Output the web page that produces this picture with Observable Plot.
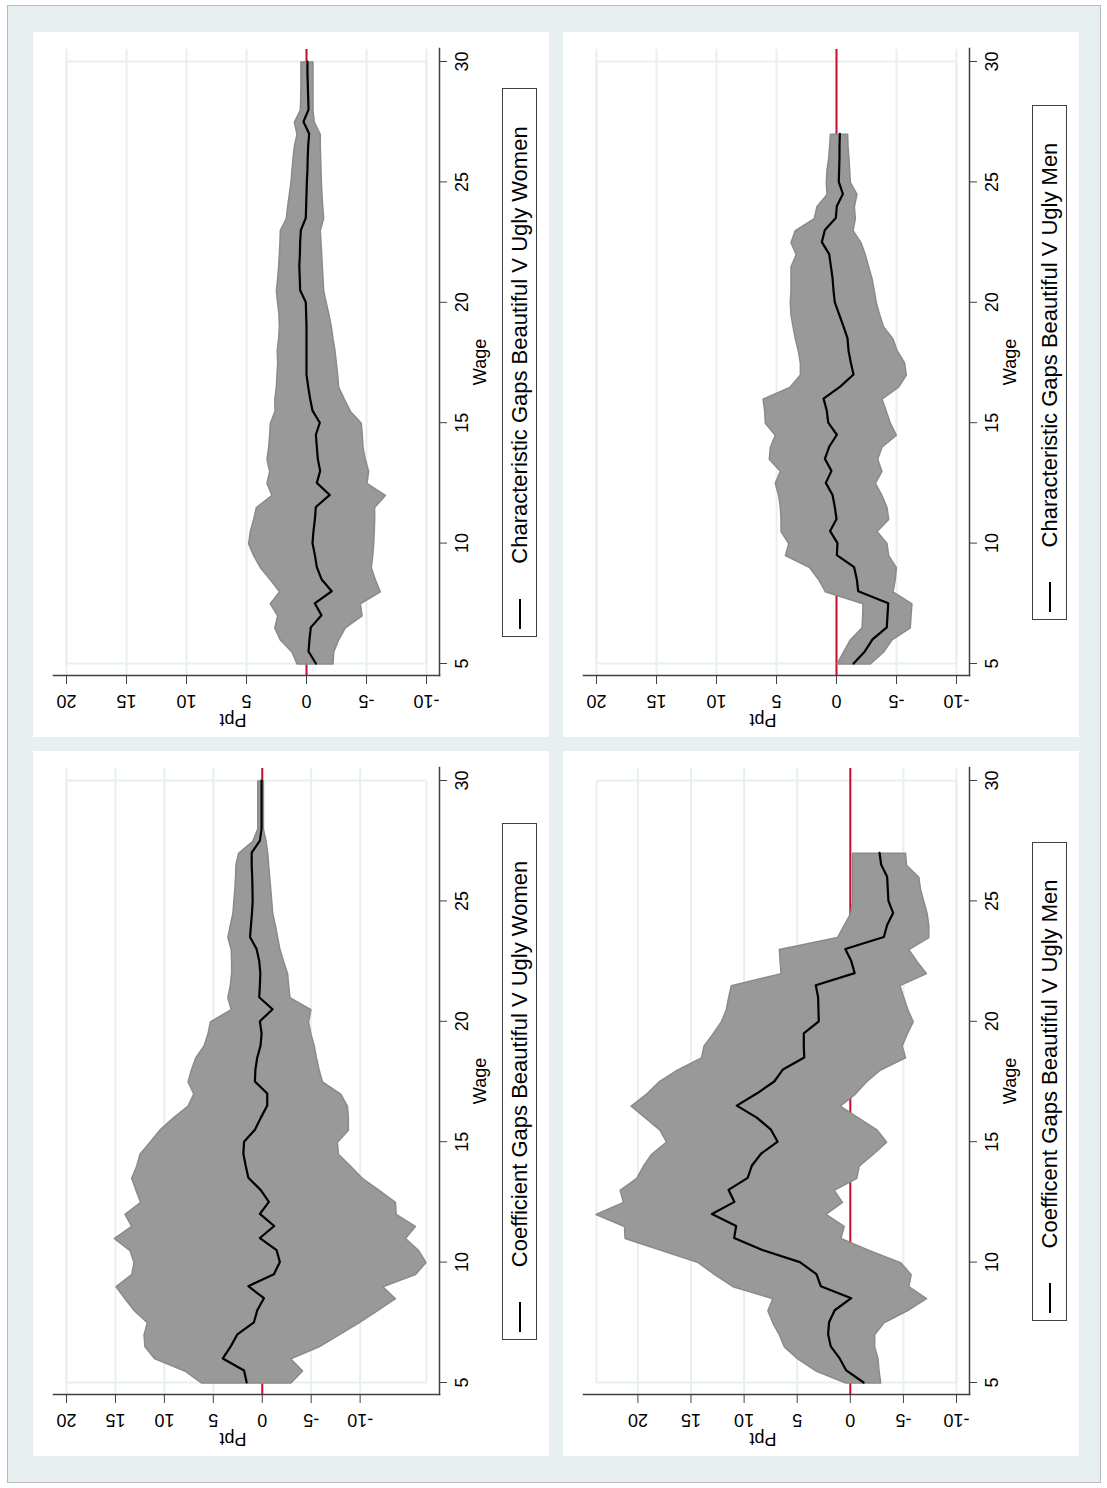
<!DOCTYPE html>
<html>
<head>
<meta charset="utf-8">
<script src="https://cdn.jsdelivr.net/npm/d3@7"></script>
<script src="https://cdn.jsdelivr.net/npm/@observablehq/plot@0.6"></script>
<style>
html, body { margin:0; padding:0; background:#fff; width:1107px; height:1488px; overflow:hidden; }
#fig { position:absolute; left:0; top:0; width:1488px; height:1107px; transform-origin:0 0; transform:translate(0px,1488px) rotate(-90deg); font-family:"Liberation Sans", Arial, sans-serif; }
#outer { position:absolute; left:5px; top:7px; width:1478px; height:1094px; background:#e8eff1; border:1px solid #b8b8b8; box-sizing:border-box; }
.panel { position:absolute; width:705px; height:516px; background:#fff; }
.panel svg { position:absolute; left:0; top:0; }
.legwrap { position:absolute; left:61px; width:627px; top:469px; display:flex; justify-content:center; }
.leg { display:flex; align-items:center; height:35px; box-sizing:border-box; border:1px solid #404040; background:#fff; padding:0 37px 0 7px; }
.key { width:30px; height:0; border-top:2px solid #000; }
.lt { margin-left:35px; font-size:22px; color:#000; white-space:nowrap; line-height:1; }
</style>
</head>
<body>
<div id="fig"><div id="outer"></div></div>
<script>
const pptTicks = [-10, -5, 0, 5, 10, 15, 20];
const wageTicks = [5, 10, 15, 20, 25, 30];

const wageWomen = [5,5.5,6,6.5,7,7.5,8,8.5,9,9.5,10,10.5,11,11.5,12,12.5,13,13.5,14,14.5,15,15.5,16,16.5,17,17.5,18,18.5,19,19.5,20,20.5,21,21.5,22,22.5,23,23.5,24,24.5,25,25.5,26,26.5,27,27.5,28,28.5,29,29.5,30];
const wageMen = [5,5.5,6,6.5,7,7.5,8,8.5,9,9.5,10,10.5,11,11.5,12,12.5,13,13.5,14,14.5,15,15.5,16,16.5,17,17.5,18,18.5,19,19.5,20,20.5,21,21.5,22,22.5,23,23.5,24,24.5,25,25.5,26,26.5,27];

// Characteristic gaps, women
const charWomenMid = [-0.78,-0.17,-0.25,-0.36,-1.25,-0.69,-2.1,-1.25,-0.86,-0.7,
  -0.5,-0.58,-0.7,-0.78,-1.94,-0.86,-1.14,-0.94,-0.86,-0.78,
  -1.11,-0.5,-0.3,-0.14,0,0,0,0,0,0.03,
  0.06,0.53,0.56,0.6,0.55,0.53,0.47,0.06,0.03,0,
  -0.03,-0.08,-0.1,-0.14,-0.22,0.25,-0.17,-0.14,-0.11,-0.08,-0.08];
const charWomenHi = [0.75,1.17,2.14,2.6,2.36,2.97,2.2,2.97,3.8,4.36,
  4.78,4.64,4.36,4.14,2.83,3.25,3.03,3.25,3.11,3.03,
  2.97,2.58,2.6,2.47,2.42,2.36,2.4,2.28,2.22,2.25,
  2.36,2.47,2.36,2.28,2.22,2.17,2.14,1.64,1.53,1.39,
  1.25,1.17,1.08,0.97,0.75,0.97,0.47,0.44,0.42,0.42,0.42];
const charWomenLo = [-2.25,-2.31,-2.72,-3.28,-4.67,-4.53,-6.19,-5.78,-5.44,-5.56,
  -5.64,-5.69,-5.72,-5.72,-6.61,-5.08,-5.22,-4.94,-4.75,-4.69,
  -4.61,-3.69,-3.19,-2.72,-2.64,-2.53,-2.42,-2.25,-2.11,-1.92,
  -1.69,-1.47,-1.42,-1.36,-1.31,-1.25,-1.19,-1.47,-1.39,-1.33,
  -1.28,-1.25,-1.22,-1.19,-1.19,-0.69,-0.58,-0.58,-0.58,-0.58,-0.58];

// Characteristic gaps, men
const charMenMid = [-1.42,-2.36,-3.0,-4.19,-4.25,-4.31,-1.81,-1.69,-1.47,-0.03,
  -0.08,0.53,0,0.14,0.33,0.89,0.42,0.97,0.61,-0.03,
  0.69,0.81,1.08,-0.31,-1.42,-1.19,-1.0,-0.92,-0.58,-0.22,
  0.14,0.25,0.33,0.47,0.61,1.22,0.97,0.06,-0.03,-0.53,
  -0.19,-0.22,-0.25,-0.25,-0.28];
const charMenHi = [-0.08,-0.64,-1.19,-2.17,-2.22,-2.25,0.89,1.44,2.19,4.22,
  3.94,4.58,4.58,4.64,4.78,5.06,4.64,5.56,5.47,5.06,
  5.89,5.94,6.08,3.81,2.97,2.97,3.14,3.39,3.58,3.75,
  3.81,3.75,3.75,3.75,3.31,3.75,3.39,1.81,1.58,0.75,
  0.81,0.75,0.61,0.53,0.47];
const charMenLo = [-2.86,-3.97,-4.67,-6.19,-6.25,-6.33,-4.75,-4.94,-5.03,-4.39,
  -4.25,-3.42,-4.39,-4.25,-3.83,-3.28,-3.83,-3.47,-3.83,-5.03,
  -4.53,-4.19,-3.83,-5.22,-5.86,-5.72,-5.1,-4.75,-3.97,-3.64,
  -3.36,-3.19,-3.0,-2.72,-2.44,-2.08,-1.42,-1.61,-1.53,-1.75,
  -1.19,-1.14,-1.08,-1.0,-0.97];

// Coefficient gaps, women
const coefWomenMid = [1.59,1.86,4.03,3.22,2.54,0.85,0.51,-0.17,1.42,-1.19,
  -1.8,-1.46,0.24,-1.22,0.24,-0.68,0.17,1.42,1.69,1.93,
  1.86,0.75,0.14,-0.51,-0.51,0.75,0.7,0.51,0.17,0.07,
  0.24,-1.05,0.31,0.24,0.2,0.31,0.58,1.25,1.15,1.05,
  0.98,1.0,1.03,1.08,1.08,0.24,0.07,0.07,0.07,0.07,0.07];
const coefWomenHi = [6.17,7.86,10.92,11.93,12.03,11.69,13.02,13.97,14.88,13.29,
  13.05,13.46,15.08,13.29,13.97,12.37,12.85,13.29,12.78,12.44,
  11.42,10.41,9.05,7.53,6.95,7.53,7.19,6.75,5.9,5.49,
  5.25,3.12,3.46,3.22,3.08,3.08,3.12,3.46,3.22,2.95,
  2.85,2.75,2.68,2.64,2.37,0.92,0.41,0.41,0.41,0.41,0.41];
const coefWomenLo = [-2.98,-4.17,-2.98,-5.86,-7.9,-9.93,-11.8,-13.66,-12.37,-15.69,
  -16.78,-16.03,-14.68,-15.69,-13.73,-13.66,-12.0,-10.27,-9.08,-7.83,
  -7.73,-8.85,-8.85,-8.75,-8.07,-6.2,-5.86,-5.59,-5.36,-5.02,
  -4.78,-5.02,-2.88,-2.75,-2.64,-2.24,-1.86,-1.63,-1.39,-1.12,
  -1.02,-0.92,-0.81,-0.71,-0.61,-0.44,-0.17,-0.17,-0.17,-0.17,-0.17];

// Coefficient gaps, men
const coefMenMid = [-1.25,0.38,1.0,1.84,2.09,2.0,1.47,-0.09,2.78,3.19,
  4.75,8.28,10.94,10.75,13.03,10.91,11.47,9.66,9.28,8.41,
  6.84,7.47,8.81,10.69,8.81,7.16,6.34,4.34,4.38,4.38,
  2.97,3.0,3.03,3.25,-0.41,-0.09,0.47,-3.16,-3.47,-4.03,
  -3.59,-3.53,-3.47,-2.91,-2.75];
const coefMenHi = [0.38,3.19,4.91,6.16,6.63,7.25,7.72,7.25,11.0,12.72,
  14.28,17.72,21.16,21.22,23.9,21.31,21.63,20.06,19.44,18.66,
  17.25,17.88,19.22,20.59,19.13,17.97,16.2,13.97,13.72,12.88,
  12.09,11.63,11.41,11.16,6.47,6.56,6.63,1.16,0.53,-0.09,
  -0.25,-0.25,-0.25,-0.25,-0.25];
const coefMenLo = [-2.91,-2.75,-2.66,-2.34,-2.34,-3.22,-5.41,-7.22,-5.56,-5.78,
  -4.78,-1.81,0.84,0.53,2.25,0.69,1.47,-0.66,-0.88,-2.22,
  -3.47,-2.59,-0.84,0.91,-0.53,-1.56,-2.9,-5.25,-4.94,-5.41,
  -5.97,-5.47,-5.09,-4.72,-7.22,-6.34,-5.56,-7.44,-7.44,-7.28,
  -6.97,-6.66,-6.5,-5.34,-5.25];

const GRID = "#e8eff1", RED = "#c8102e", AXIS = "#404040";
const fig = document.getElementById("fig");

function makePanel(left, top, wage, mid, lo, hi, legendText) {
  const rows = wage.map((w, i) => ({w, m: mid[i], l: lo[i], h: hi[i]}));
  const yMin = Math.min(d3.min(pptTicks), d3.min(lo));
  const yMax = Math.max(d3.max(pptTicks), d3.max(hi));
  const chart = Plot.plot({
    width: 705, height: 511,
    marginLeft: 61, marginRight: 17, marginTop: 20, marginBottom: 105,
    insetLeft: 12, insetRight: 13, insetTop: 13, insetBottom: 13,
    style: {fontFamily: "'Liberation Sans', Arial, sans-serif", fontSize: "18px", background: "transparent", color: "#000", overflow: "visible"},
    x: {domain: [5, 30]},
    y: {domain: [yMin, yMax]},
    marks: [
      Plot.gridY(pptTicks, {stroke: GRID, strokeOpacity: 1, strokeWidth: 2}),
      Plot.ruleX([5, 30], {y1: yMin, y2: yMax, stroke: GRID, strokeWidth: 2}),
      Plot.ruleY([yMin, yMax], {x1: 5, x2: 30, stroke: GRID, strokeWidth: 2}),
      Plot.ruleY([0], {stroke: RED, strokeWidth: 2}),
      Plot.areaY(rows, {x: "w", y1: "l", y2: "h", fill: "#999999", stroke: "#8a8a8a", strokeWidth: 1.5}),
      Plot.lineY(rows, {x: "w", y: "m", stroke: "#000", strokeWidth: 2.2}),
      Plot.frame({anchor: "left", stroke: AXIS, strokeWidth: 1.5}),
      Plot.frame({anchor: "bottom", stroke: AXIS, strokeWidth: 1.5}),
      Plot.axisX(wageTicks, {tickSize: 8, tickPadding: 8, tickFormat: d => String(d), label: null, stroke: AXIS}),
      Plot.axisY(pptTicks, {tickSize: 8, tickPadding: 11, tickRotate: -90, tickFormat: d => String(d), label: null, stroke: AXIS}),
      Plot.text(["Wage"], {frameAnchor: "bottom", dy: 41, text: d => d, lineAnchor: "middle", fontSize: 18}),
      Plot.text(["Ppt"], {frameAnchor: "left", dx: -44, rotate: -90, text: d => d, lineAnchor: "middle", fontSize: 18})
    ]
  });
  const div = document.createElement("div");
  div.className = "panel";
  div.style.left = left + "px";
  div.style.top = top + "px";
  div.appendChild(chart);
  const wrap = document.createElement("div");
  wrap.className = "legwrap";
  const leg = document.createElement("div");
  leg.className = "leg";
  const key = document.createElement("span");
  key.className = "key";
  const lt = document.createElement("span");
  lt.className = "lt";
  lt.textContent = legendText;
  leg.appendChild(key);
  leg.appendChild(lt);
  wrap.appendChild(leg);
  div.appendChild(wrap);
  fig.appendChild(div);
}

makePanel(32, 33, wageWomen, coefWomenMid, coefWomenLo, coefWomenHi, "Coefficient Gaps Beautiful V Ugly Women");
makePanel(751, 33, wageWomen, charWomenMid, charWomenLo, charWomenHi, "Characteristic Gaps Beautiful V Ugly Women");
makePanel(32, 563, wageMen, coefMenMid, coefMenLo, coefMenHi, "Coefficent Gaps Beautiful V Ugly Men");
makePanel(751, 563, wageMen, charMenMid, charMenLo, charMenHi, "Characteristic Gaps Beautiful V Ugly Men");
</script>
</body>
</html>
